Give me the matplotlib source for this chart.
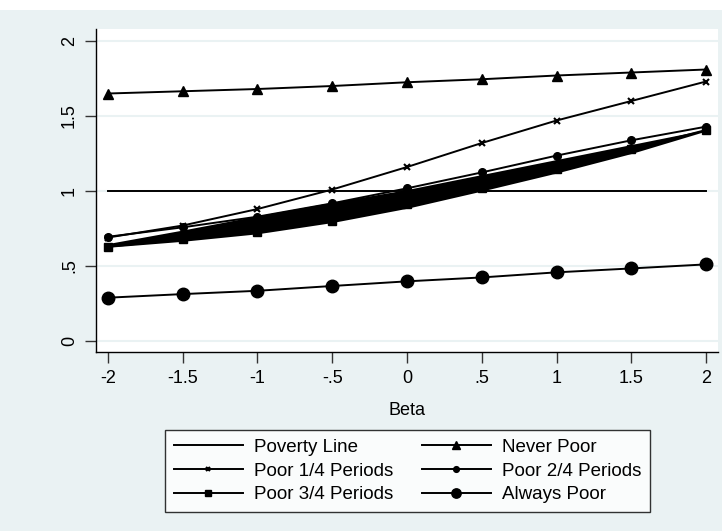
import matplotlib
matplotlib.use("Agg")
import matplotlib.pyplot as plt
from matplotlib.patches import Rectangle

plt.rcParams['font.family'] = ['Liberation Sans', 'DejaVu Sans']

# values
beta = [-2, -1.5, -1, -0.5, 0, 0.5, 1, 1.5, 2]
never_poor = [1.65, 1.665, 1.68, 1.70, 1.725, 1.745, 1.77, 1.79, 1.81]
poor_1_4 = [0.69, 0.77, 0.88, 1.01, 1.16, 1.32, 1.47, 1.60, 1.73]
poor_2_4 = [0.695, 0.758, 0.829, 0.918, 1.018, 1.124, 1.236, 1.338, 1.429]
poor_3_4 = [0.629, 0.678, 0.729, 0.802, 0.911, 1.018, 1.144, 1.278, 1.407]
always_poor = [0.289, 0.313, 0.335, 0.367, 0.398, 0.424, 0.458, 0.484, 0.511]
poverty_line = [1] * len(beta)
# edges of the solid black band under "Poor 2/4"
band_top = [0.65, 0.74, 0.835, 0.925, 1.01, 1.11, 1.21, 1.31, 1.41]
band_bottom = [0.625, 0.665, 0.715, 0.79, 0.885, 1.0, 1.12, 1.25, 1.40]

yticks = [0, 0.5, 1, 1.5, 2]
ytick_labels = ["0", ".5", "1", "1.5", "2"]
xtick_labels = ["-2", "-1.5", "-1", "-.5", "0", ".5", "1", "1.5", "2"]

bg = "#EAF2F3"
fig = plt.figure(figsize=(7.22, 5.31), dpi=100, facecolor=bg)
fig.patches.append(Rectangle((0, 1 - 10/531), 1, 10/531, transform=fig.transFigure,
                             facecolor="white", edgecolor="none", zorder=0))

ax = fig.add_axes([96/722, 1 - 352/531, 622/722, 323/531])
ax.set_facecolor("white")
for s in ["top", "right"]:
    ax.spines[s].set_visible(False)
for s in ["left", "bottom"]:
    ax.spines[s].set_linewidth(1.0)

ax.fill_between(beta, band_bottom, band_top, color="black", lw=0, zorder=2)

ax.plot(beta, poverty_line, color="black", lw=1.4, label="Poverty Line", zorder=3)
ax.plot(beta, never_poor, color="black", lw=1.4, marker="^", ms=7, label="Never Poor", zorder=3)
ax.plot(beta, poor_1_4, color="black", lw=1.4, marker="x", ms=4, mew=1.5, label="Poor 1/4 Periods", zorder=3)
ax.plot(beta, poor_2_4, color="black", lw=1.4, marker="o", ms=5.5, label="Poor 2/4 Periods", zorder=3)
ax.plot(beta, poor_3_4, color="black", lw=1.4, marker="s", ms=5.5, label="Poor 3/4 Periods", zorder=3)
ax.plot(beta, always_poor, color="black", lw=1.4, marker="o", ms=9, label="Always Poor", zorder=3)

ax.set_xlim(-2.08, 2.08)
ax.set_ylim(-0.073, 2.08)
ax.set_xticks(beta)
ax.set_xticklabels(xtick_labels)
ax.set_yticks(yticks)
ax.set_yticklabels(ytick_labels, rotation=90, va="center")
ax.tick_params(axis="both", length=8, width=1, labelsize=13, pad=5, color="#333333")
ax.grid(axis="y", color=bg, lw=1.5, zorder=0)
ax.set_axisbelow(True)
ax.set_xlabel("Beta", fontsize=13, labelpad=11)

handles, labels = ax.get_legend_handles_labels()
# legend fills column by column, so reorder to get row-wise reading
order = [0, 2, 4, 1, 3, 5]
leg = fig.legend([handles[i] for i in order], [labels[i] for i in order],
                 ncol=2, loc="center", bbox_to_anchor=(407.5/722, 1 - 471/531),
                 fontsize=13.5, frameon=True, fancybox=False, edgecolor="black",
                 handlelength=3.7, handletextpad=0.6, columnspacing=1.5,
                 labelspacing=0.35, borderpad=0.45, markerscale=0.75)
leg.get_frame().set_linewidth(1.0)
leg.get_frame().set_facecolor("white")

fig.savefig("out.png", dpi=100, facecolor=bg)
